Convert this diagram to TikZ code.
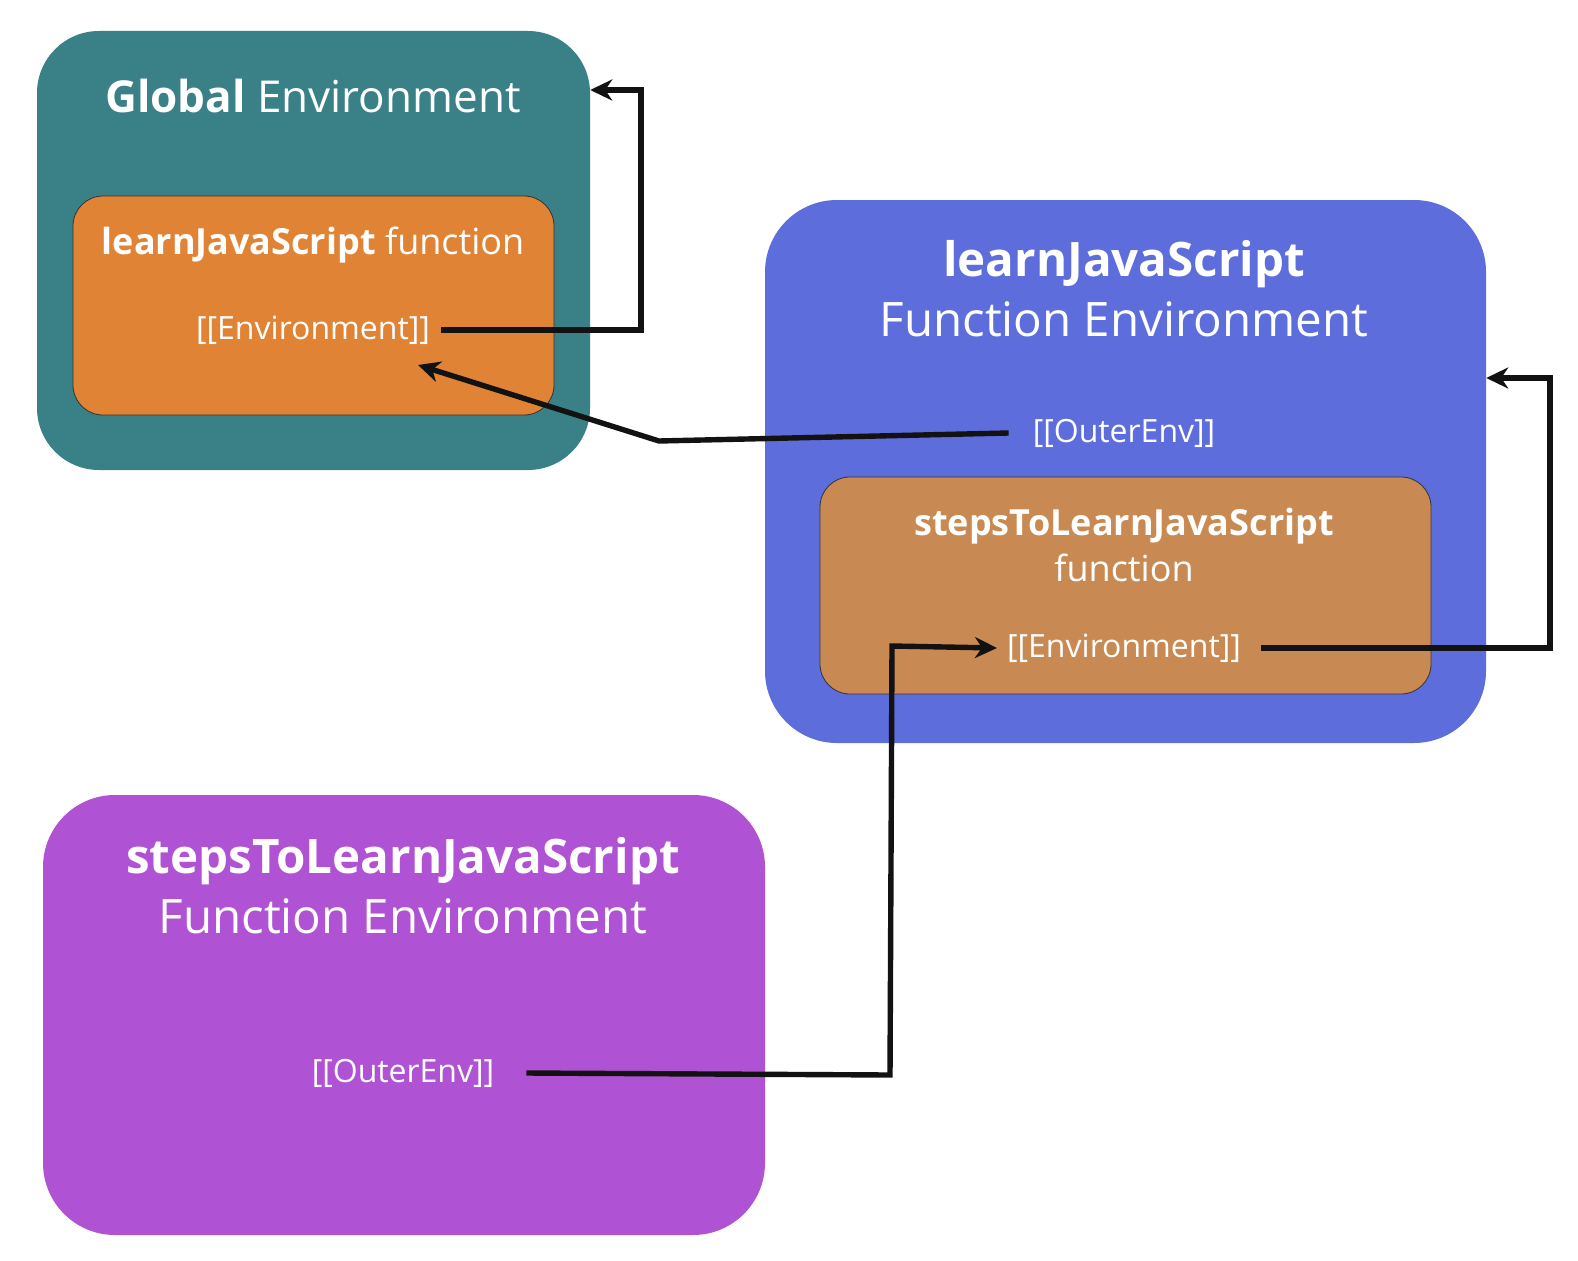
\documentclass[tikz,border=0pt]{standalone}
\usepackage{fontspec}
\setmainfont{Open Sans}
\usetikzlibrary{arrows.meta}

\definecolor{globalteal}{HTML}{3A8087}
\definecolor{learnorange}{HTML}{E08335}
\definecolor{learnblue}{HTML}{5E6DDC}
\definecolor{stepsbrown}{HTML}{C88A52}
\definecolor{stepspurple}{HTML}{B052D4}

\begin{document}
\begin{tikzpicture}[x=1pt, y=-1pt,
        envbox/.style = {rectangle, rounded corners=62pt, inner sep=0pt},
        funbox/.style = {rectangle, rounded corners=30pt, draw=black!80, line width=0.8pt, inner sep=0pt},
        bigtitle/.style = {text=white, align=center, font=\fontsize{47.5}{60}\selectfont},
        funtitle/.style = {text=white, align=center, font=\fontsize{36}{46}\selectfont},
        slot/.style = {text=white, inner sep=2pt, font=\fontsize{32}{36}\selectfont},
        link/.style = {line width=5.4pt, draw=black!93, -{Stealth[length=22pt, width=21pt, inset=7pt]}}
    ]
    \useasboundingbox (0,0) rectangle (1578,1260);

    % ================= GLOBAL ENVIRONMENT =================
    \node[envbox, fill=globalteal, minimum width=553pt, minimum height=439pt] (global) at (313.5, 250.5) {};
    \node[bigtitle, font=\fontsize{44}{60}\selectfont] (globaltitle) at (313, 96) {\textbf{Global} Environment};

    \node[funbox, fill=learnorange, minimum width=481pt, minimum height=219pt] (learnfn) at (313.5, 305.5) {};
    \node[funtitle] (learnfntitle) at (313, 245) {\textbf{learnJavaScript} function};
    \node[slot] (learnenv) at (313, 330) {[[Environment]]};

    % ================= learnJavaScript ENVIRONMENT =================
    \node[envbox, rounded corners=72pt, fill=learnblue, minimum width=721pt, minimum height=543pt] (learn) at (1125.5, 471.5) {};
    \node[bigtitle] (learntitle) at (1124, 289) {\textbf{learnJavaScript}\\Function Environment};
    \node[slot] (learnouter) at (1124, 433) {[[OuterEnv]]};

    \node[funbox, fill=stepsbrown, minimum width=611pt, minimum height=217pt] (stepsfn) at (1125.5, 585.5) {};
    \node[funtitle] (stepsfntitle) at (1124, 545) {\textbf{stepsToLearnJavaScript}\\function};
    \node[slot] (stepsenv) at (1124, 648) {[[Environment]]};

    % ================= stepsToLearnJavaScript ENVIRONMENT =================
    \node[envbox, rounded corners=72pt, fill=stepspurple, minimum width=722pt, minimum height=440pt] (steps) at (404, 1015) {};
    \node[bigtitle] (stepstitle) at (403, 886) {\textbf{stepsToLearnJavaScript}\\Function Environment};
    \node[slot] (stepsouter) at (403, 1073) {[[OuterEnv]]};

    % ================= ENLACES =================
    \coordinate (bendglobal) at (641, 90);
    \coordinate (bendlearn) at (1550, 378);
    \draw[link] ([xshift=9pt]learnenv.east) -| (bendglobal) -- (global.east |- bendglobal);
    \draw[link] ([xshift=-22pt]learnouter.west) -- (659, 441) -- (418, 365);
    \draw[link] ([xshift=18pt]stepsenv.east) -| (bendlearn) -- (learn.east |- bendlearn);
    \draw[link] ([xshift=30pt]stepsouter.east) -- (890, 1075) -- (892, 646) -- ([xshift=-8pt]stepsenv.west);

\end{tikzpicture}
\end{document}
